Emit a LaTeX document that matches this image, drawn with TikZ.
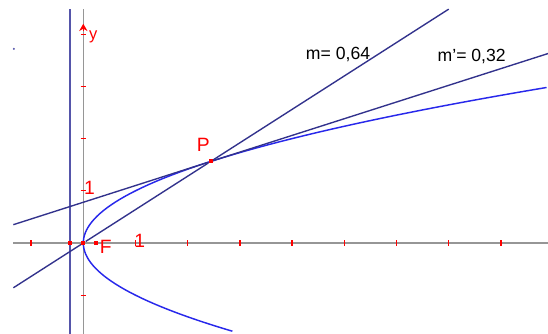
\documentclass[tikz,border=0pt]{standalone}
\usepackage{fontspec}
\setmainfont{Liberation Sans}
\usetikzlibrary{arrows.meta,calc}
\usepackage{xcolor}
\definecolor{axgray}{RGB}{150,150,150}
\definecolor{dirblue}{RGB}{85,85,170}
\definecolor{lnavy}{RGB}{50,50,140}
\definecolor{parblue}{RGB}{40,40,235}

\begin{document}
\begin{tikzpicture}[x=1cm, y=1cm,
  ax/.style={draw=axgray, line width=0.85pt},
  tck/.style={draw=red, line width=0.7pt},
  dirl/.style={draw=dirblue, line width=1.2pt},
  lin/.style={draw=lnavy, line width=0.75pt},
  parab/.style={draw=parblue, line width=0.8pt},
  pt/.style={fill=red, inner sep=0pt, minimum size=2.2pt},
  lbl/.style={text=red, font=\fontsize{10.5}{12}\selectfont, inner sep=0pt},
  slp/.style={font=\fontsize{9.6}{11}\selectfont, inner sep=0pt}]
\useasboundingbox (-1.596,-1.743) rectangle (8.902,4.655);

%% ── axes and ticks ───────────────────────────────────────
\coordinate (xl) at (-1.34,0);
\coordinate (xr) at (8.902,0);
\coordinate (yb) at (0,-1.743);
\coordinate (yt) at (0,4.48);
\draw[ax] (xl) -- (xr);
\draw[ax] (yb) -- (yt);
\foreach \k in {-1,1,2,...,8}{\draw[tck] (\k,-0.05) -- (\k,0.05);}
\foreach \k in {-1,1,2,3,4}{\draw[tck] (-0.05,\k) -- (0.05,\k);}
\coordinate (ya) at (0,4.06);
\coordinate (yh) at (0,4.20);
\draw[red, line width=0.6pt, -{Stealth[length=1.4mm, width=1.6mm]}] (ya) -- (yh);
\node[lbl, font=\fontsize{9}{10}\selectfont] (ylab) at (0.19,3.95) {y};
\node[lbl] (one x) at (1.08,0.04) {1};
\node[lbl] (one y) at (0.12,1.06) {1};

%% ── directrix, parabola x = y^2 ──────────────────────────
\coordinate (db) at (-0.25,-1.743);
\coordinate (dt) at (-0.25,4.48);
\draw[dirl] (db) -- (dt);
\draw[parab] plot[domain=-1.69:2.98, samples=90, smooth] ({\x*\x},\x);

%% ── points ───────────────────────────────────────────────
\node[pt] (O) at (0,0) {};
\node[pt] (D) at (-0.25,0) {};
\node[pt] (F) at (0.25,0) {};
\node[pt] (P) at (2.4414,1.5625) {};
\node[lbl] (Flab) at (0.43,-0.07) {F};
\node[lbl] (Plab) at (2.30,1.88) {P};

%% ── secant through O and P, tangent at P ─────────────────
\coordinate (s0) at (-1.34,-0.858);
\coordinate (s1) at (7.00,4.48);
\draw[lin] (s0) -- (O) -- (P) -- (s1);
\coordinate (t0) at (-1.34,0.351);
\coordinate (t1) at (8.902,3.629);
\draw[lin] (t0) -- (P) -- (t1);
\node[slp] (mlab) at (4.88,3.61) {m= 0,64};
\node[slp] (mtlab) at (7.44,3.58) {m'= 0,32};

\fill[dirblue] (-1.33,3.72) circle (0.6pt);
\end{tikzpicture}
\end{document}
